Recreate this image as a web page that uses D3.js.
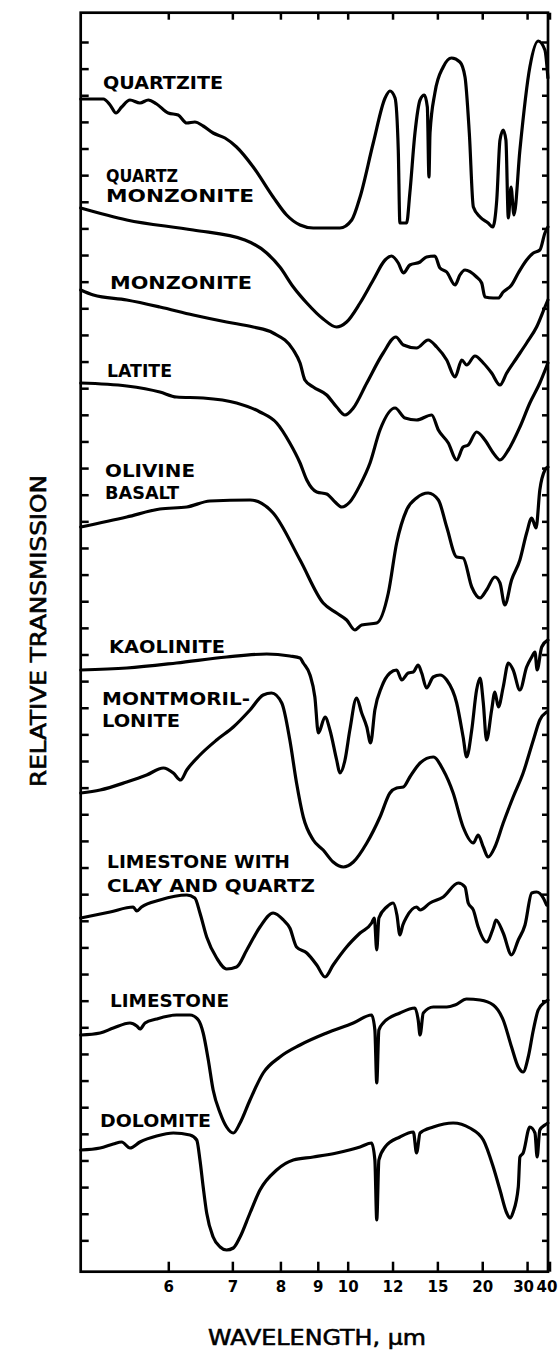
<!DOCTYPE html>
<html>
<head>
<meta charset="utf-8">
<title>Infrared transmission spectra of rocks and minerals</title>
<script src="https://cdnjs.cloudflare.com/ajax/libs/d3/7.8.5/d3.min.js"></script>
<style>
  body { margin: 0; background: #fff; }
  svg { display: block; }
  .spectrum { fill: none; stroke: #000; stroke-width: 3.2; stroke-linejoin: round; stroke-linecap: round; }
  .name { font-family: "DejaVu Sans", sans-serif; font-weight: bold; font-size: 18px; fill: #000; }
  .axis-title { font-family: "DejaVu Sans", sans-serif; font-size: 21px; fill: #000; stroke: #000; stroke-width: 0.6; }
  .tick line { stroke: #000; stroke-width: 2.5; }
</style>
</head>
<body>
<div id="chart"></div>
<script>
// wavenumber (cm-1) vs relative transmission (stacked, arbitrary units)
const quartzite = [
  [1992,117.3],[1908,117.3],[1883,116.7],[1861,115.9],[1840,116.5],[1809,117.2],[1772,116.9],[1741,117.2],
  [1710,116.8],[1667,115.9],[1630,115.7],[1598,114.9],[1568,115.0],[1537,114.6],[1500,113.9],[1456,113.4],
  [1413,112.5],[1351,110.5],[1277,107.5],[1227,105.7],[1177,104.7],[1128,104.4],[1029,104.4],[985,105.2],
  [954,107.5],[905,112.9],[861,117.4],[843,118.1],[824,117.4],[812,112.2],[806,104.9],[781,104.9],
  [769,107.9],[750,113.9],[731,117.2],[715,117.7],[704,116.5],[698,109.5],[694,113.9],[676,117.9],
  [645,120.5],[614,121.4],[583,121.0],[564,119.5],[548,113.9],[533,106.5],[508,105.5],[478,104.9],
  [461,104.5],[446,107.2],[434,113.2],[422,114.2],[412,113.2],[403,105.4],[393,108.5],[382,105.7],
  [360,112.2],[323,120.5],[292,123.1],[267,122.2],[256,119.4]
];
const quartzMonzonite = [
  [1992,106.4],[1821,105.2],[1574,104.2],[1382,103.2],[1301,101.9],[1252,100.5],[1202,98.5],[1152,96.9],
  [1091,95.3],[1041,94.5],[1004,95.0],[954,96.9],[905,99.2],[861,101.2],[837,101.6],[812,100.9],
  [793,99.9],[769,100.7],[731,101.0],[707,101.5],[676,101.6],[657,100.4],[632,100.0],[601,98.7],
  [583,99.7],[564,100.2],[521,99.5],[502,98.9],[490,97.5],[459,97.4],[440,97.4],[422,98.0],
  [391,98.7],[366,99.9],[335,101.2],[310,101.9],[286,102.2],[267,103.9],[256,104.5]
];
const monzonite = [
  [1992,98.2],[1945,97.7],[1821,97.2],[1698,96.5],[1574,95.7],[1450,95.0],[1351,94.5],[1277,93.9],
  [1202,92.2],[1177,90.9],[1159,89.2],[1128,88.5],[1078,87.7],[1041,86.5],[1010,85.7],[979,86.4],
  [929,88.9],[868,91.9],[821,93.5],[793,92.7],[744,92.4],[701,93.2],[669,92.5],[632,91.2],
  [601,89.5],[576,91.2],[558,90.7],[527,91.6],[496,90.9],[465,89.9],[434,88.7],[409,89.9],
  [372,91.4],[335,92.9],[298,94.5],[267,96.5],[256,97.2]
];
const latite = [
  [1992,88.9],[1821,88.6],[1698,88.0],[1636,87.5],[1537,87.4],[1413,86.9],[1326,86.0],[1264,84.9],
  [1215,82.9],[1177,80.9],[1152,79.2],[1115,78.0],[1078,77.8],[1047,77.0],[1022,76.5],[992,77.0],
  [954,78.7],[917,80.9],[880,84.2],[824,86.4],[787,85.4],[744,85.2],[688,85.7],[663,84.2],
  [626,82.9],[595,81.2],[571,82.5],[552,82.7],[521,84.0],[490,83.2],[459,81.9],[434,81.2],
  [403,82.2],[360,84.5],[323,86.9],[286,88.9],[256,90.9]
];
const olivineBasalt = [
  [1992,74.5],[1821,75.5],[1698,76.3],[1598,76.5],[1512,77.1],[1363,77.2],[1277,75.9],[1177,71.2],
  [1091,66.9],[1041,65.9],[1004,65.2],[973,64.2],[948,64.7],[892,64.9],[849,67.9],[818,72.9],
  [781,76.2],[744,77.4],[701,77.9],[663,77.2],[632,74.5],[595,71.5],[571,71.4],[539,68.5],
  [508,67.4],[484,68.2],[453,69.5],[434,68.9],[416,66.7],[391,69.2],[360,71.2],[335,73.9],
  [316,75.4],[300,74.4],[286,78.2],[267,80.2],[256,80.5]
];
const kaolinite = [
  [1992,60.2],[1821,60.4],[1636,60.9],[1450,61.5],[1301,61.8],[1215,61.6],[1177,61.4],[1165,60.9],
  [1140,59.7],[1122,57.5],[1109,53.9],[1084,55.5],[1066,54.2],[1041,51.2],[1029,49.9],[1010,51.2],
  [992,54.2],[967,57.4],[948,55.9],[929,54.5],[915,52.9],[899,56.2],[874,58.5],[843,59.9],
  [818,60.2],[799,59.2],[775,59.9],[756,60.0],[738,60.7],[725,59.9],[707,58.4],[682,59.5],
  [657,59.7],[632,59.2],[595,56.9],[571,53.5],[558,51.5],[539,54.2],[521,58.2],[508,59.4],
  [496,56.9],[484,53.2],[465,56.2],[453,58.0],[440,56.5],[422,58.5],[403,60.9],[385,60.2],
  [360,58.2],[335,60.5],[316,61.5],[304,62.0],[296,60.2],[279,62.5],[256,63.2]
];
const montmorillonite = [
  [1992,47.9],[1920,48.2],[1821,49.0],[1747,49.7],[1685,50.4],[1648,49.9],[1621,49.2],[1598,50.2],
  [1549,51.7],[1487,53.2],[1425,54.5],[1363,56.2],[1314,57.7],[1283,57.9],[1245,56.9],[1215,53.2],
  [1190,48.9],[1165,45.5],[1128,43.2],[1091,42.2],[1054,41.0],[1016,40.5],[979,41.0],[929,42.9],
  [880,45.5],[843,47.9],[818,48.4],[793,48.5],[769,49.5],[731,50.9],[682,51.5],[645,50.2],
  [608,47.9],[571,44.5],[533,42.9],[515,43.7],[496,42.5],[478,41.5],[453,42.5],[422,44.9],
  [385,47.5],[348,49.9],[310,53.2],[286,55.2],[261,56.0]
];
const limestoneClayQuartz = [
  [1992,35.4],[1883,36.0],[1797,36.5],[1784,36.1],[1766,36.5],[1698,37.2],[1598,37.7],[1568,37.4],
  [1549,35.9],[1524,33.5],[1487,31.4],[1450,30.3],[1413,30.5],[1375,32.2],[1326,34.5],[1277,35.9],
  [1239,35.2],[1215,34.4],[1190,32.5],[1152,31.9],[1115,30.7],[1084,29.5],[1054,30.7],[1004,32.5],
  [954,33.9],[911,34.9],[901,35.4],[892,32.2],[884,35.4],[855,36.5],[831,36.9],[817,35.7],
  [806,33.7],[795,34.7],[781,35.5],[744,36.5],[731,36.2],[694,36.9],[645,37.5],[589,38.9],
  [564,38.5],[552,36.9],[533,36.2],[515,34.5],[484,33.0],[459,34.4],[449,35.2],[422,33.9],
  [391,31.7],[366,33.2],[341,34.7],[316,37.9],[298,38.0],[273,37.4],[261,36.7]
];
const limestone = [
  [1992,23.7],[1920,23.9],[1871,24.4],[1809,24.9],[1784,24.6],[1772,24.3],[1753,24.9],[1710,25.3],
  [1636,25.7],[1586,25.7],[1555,25.2],[1537,23.9],[1518,21.2],[1500,18.2],[1474,15.9],[1450,14.5],
  [1425,13.9],[1400,14.9],[1363,17.2],[1314,19.9],[1252,21.5],[1177,22.7],[1078,23.9],[979,24.9],
  [911,25.7],[899,24.2],[892,18.9],[884,24.2],[868,24.9],[806,25.9],[750,26.4],[738,25.2],
  [731,23.7],[719,25.9],[682,26.5],[632,26.5],[601,26.7],[558,27.3],[508,27.2],[459,26.7],
  [422,25.2],[391,22.5],[366,20.5],[348,20.0],[329,21.5],[310,24.2],[292,26.2],[267,27.0],[256,27.2]
];
const dolomite = [
  [1992,12.2],[1920,12.4],[1871,12.8],[1840,13.0],[1809,12.4],[1772,13.0],[1710,13.6],[1648,13.9],
  [1586,13.7],[1561,13.2],[1549,11.2],[1537,8.5],[1524,5.9],[1500,3.5],[1474,2.5],[1450,2.2],
  [1425,2.4],[1400,3.5],[1363,5.9],[1326,8.2],[1264,10.2],[1202,11.2],[1128,11.5],[1041,11.9],
  [954,12.5],[911,12.9],[899,11.2],[892,5.2],[884,11.2],[861,12.5],[806,13.5],[756,14.0],
  [744,11.9],[731,13.9],[682,14.5],[608,14.9],[546,14.4],[496,13.2],[459,10.5],[434,8.2],
  [409,5.9],[397,5.4],[385,6.0],[366,8.5],[360,11.5],[348,11.9],[323,14.5],[304,13.9],
  [296,11.5],[286,14.2],[267,14.7],[256,14.9]
];

const sampleNames = [
  ["QUARTZITE"], ["QUARTZ", "MONZONITE"], ["MONZONITE"], ["LATITE"], ["OLIVINE", "BASALT"],
  ["KAOLINITE"], ["MONTMORIL-", "LONITE"], ["LIMESTONE WITH", "CLAY AND QUARTZ"], ["LIMESTONE"], ["DOLOMITE"]
];
const wavelengthTicks = [6, 7, 8, 9, 10, 12, 15, 20, 30, 40];   // micrometres

const spectra = [quartzite, quartzMonzonite, monzonite, latite, olivineBasalt,
                 kaolinite, montmorillonite, limestoneClayQuartz, limestone, dolomite];

// layout only: left x, first baseline, line gap and line widths of each name
const nameLayout = [
  {x: 103, y: 89,    gap: 0,  w: [120]},
  {x: 106, y: 182,   gap: 20, w: [72, 148]},
  {x: 110, y: 289,   gap: 0,  w: [142]},
  {x: 107, y: 376.5, gap: 0,  w: [65]},
  {x: 105, y: 476.5, gap: 22, w: [90, 74]},
  {x: 109, y: 653,   gap: 0,  w: [116]},
  {x: 102, y: 705,   gap: 22, w: [148, 78]},
  {x: 107, y: 868,   gap: 23.5, w: [183, 208]},
  {x: 110, y: 1007,  gap: 0,  w: [119]},
  {x: 100, y: 1127,  gap: 0,  w: [111]}
];
// small horizontal nudges so the crowded 30 / 40 labels stay apart and inside
const tickLabelShift = [0, 0, 0, 0, 0, 0, 0, 0, -4, -3];

const width = 559, height = 1352;
const frame = {left: 80.7, right: 548, top: 12.7, bottom: 1271.7};

const svg = d3.select("#chart").append("svg")
    .attr("width", width)
    .attr("height", height);

// axis is linear in wavenumber, labelled in wavelength
const x = d3.scaleLinear().domain([2000, 250]).range([78.6, 549.5]);
const y = d3.scaleLinear().domain([0, 126]).range([1272, 12]);

const tickNu = wavelengthTicks.map(w => 1e4 / w);
const yTicks = d3.range(46).map(k => 123.0 - 2.663 * k);

svg.append("g")
    .attr("transform", `translate(0,${frame.bottom})`)
    .call(d3.axisBottom(x).tickValues(tickNu)
        .tickFormat((d, i) => wavelengthTicks[i])
        .tickSizeInner(-10).tickSizeOuter(0).tickPadding(10))
    .call(g => g.select(".domain").remove())
    .call(g => g.selectAll("text")
        .attr("dx", (d, i) => tickLabelShift[i])
        .attr("font-family", "DejaVu Sans, sans-serif")
        .attr("font-weight", "bold")
        .attr("font-size", 15)
        .attr("fill", "#000"));

svg.append("g")
    .attr("transform", `translate(0,${frame.top})`)
    .call(d3.axisTop(x).tickValues(tickNu).tickFormat("")
        .tickSizeInner(-7).tickSizeOuter(0))
    .call(g => g.select(".domain").remove());

svg.append("g")
    .attr("transform", `translate(${frame.left},0)`)
    .call(d3.axisLeft(y).tickValues(yTicks).tickFormat("")
        .tickSizeInner(-8).tickSizeOuter(0))
    .call(g => g.select(".domain").remove());

svg.append("g")
    .attr("transform", `translate(${frame.right},0)`)
    .call(d3.axisRight(y).tickValues(yTicks).tickFormat("")
        .tickSizeInner(-6).tickSizeOuter(0))
    .call(g => g.select(".domain").remove());

svg.append("rect")
    .attr("x", frame.left)
    .attr("y", frame.top)
    .attr("width", frame.right - frame.left)
    .attr("height", frame.bottom - frame.top)
    .attr("fill", "none")
    .attr("stroke", "#000")
    .attr("stroke-width", 2.7);

const line = d3.line()
    .x(d => x(d[0]))
    .y(d => y(d[1]))
    .curve(d3.curveMonotoneX);

svg.selectAll("path.spectrum")
    .data(spectra)
    .join("path")
    .attr("class", "spectrum")
    .attr("d", line);

const names = svg.selectAll("text.name")
    .data(sampleNames)
    .join("text")
    .attr("class", "name");

names.each(function(lines, i) {
    const lay = nameLayout[i];
    d3.select(this).selectAll("tspan")
        .data(lines)
        .join("tspan")
        .attr("x", lay.x)
        .attr("y", (d, j) => lay.y + j * lay.gap)
        .attr("textLength", (d, j) => lay.w[j])
        .attr("lengthAdjust", "spacingAndGlyphs")
        .text(d => d);
});

svg.append("text")
    .attr("class", "axis-title")
    .attr("transform", "translate(46,631) rotate(-90)")
    .attr("text-anchor", "middle")
    .attr("textLength", 312)
    .attr("lengthAdjust", "spacingAndGlyphs")
    .text("RELATIVE TRANSMISSION");

svg.append("text")
    .attr("class", "axis-title")
    .attr("x", 317)
    .attr("y", 1345)
    .attr("text-anchor", "middle")
    .attr("textLength", 218)
    .attr("lengthAdjust", "spacingAndGlyphs")
    .style("font-size", "22px")
    .text("WAVELENGTH, \u03bcm");
</script>
</body>
</html>
